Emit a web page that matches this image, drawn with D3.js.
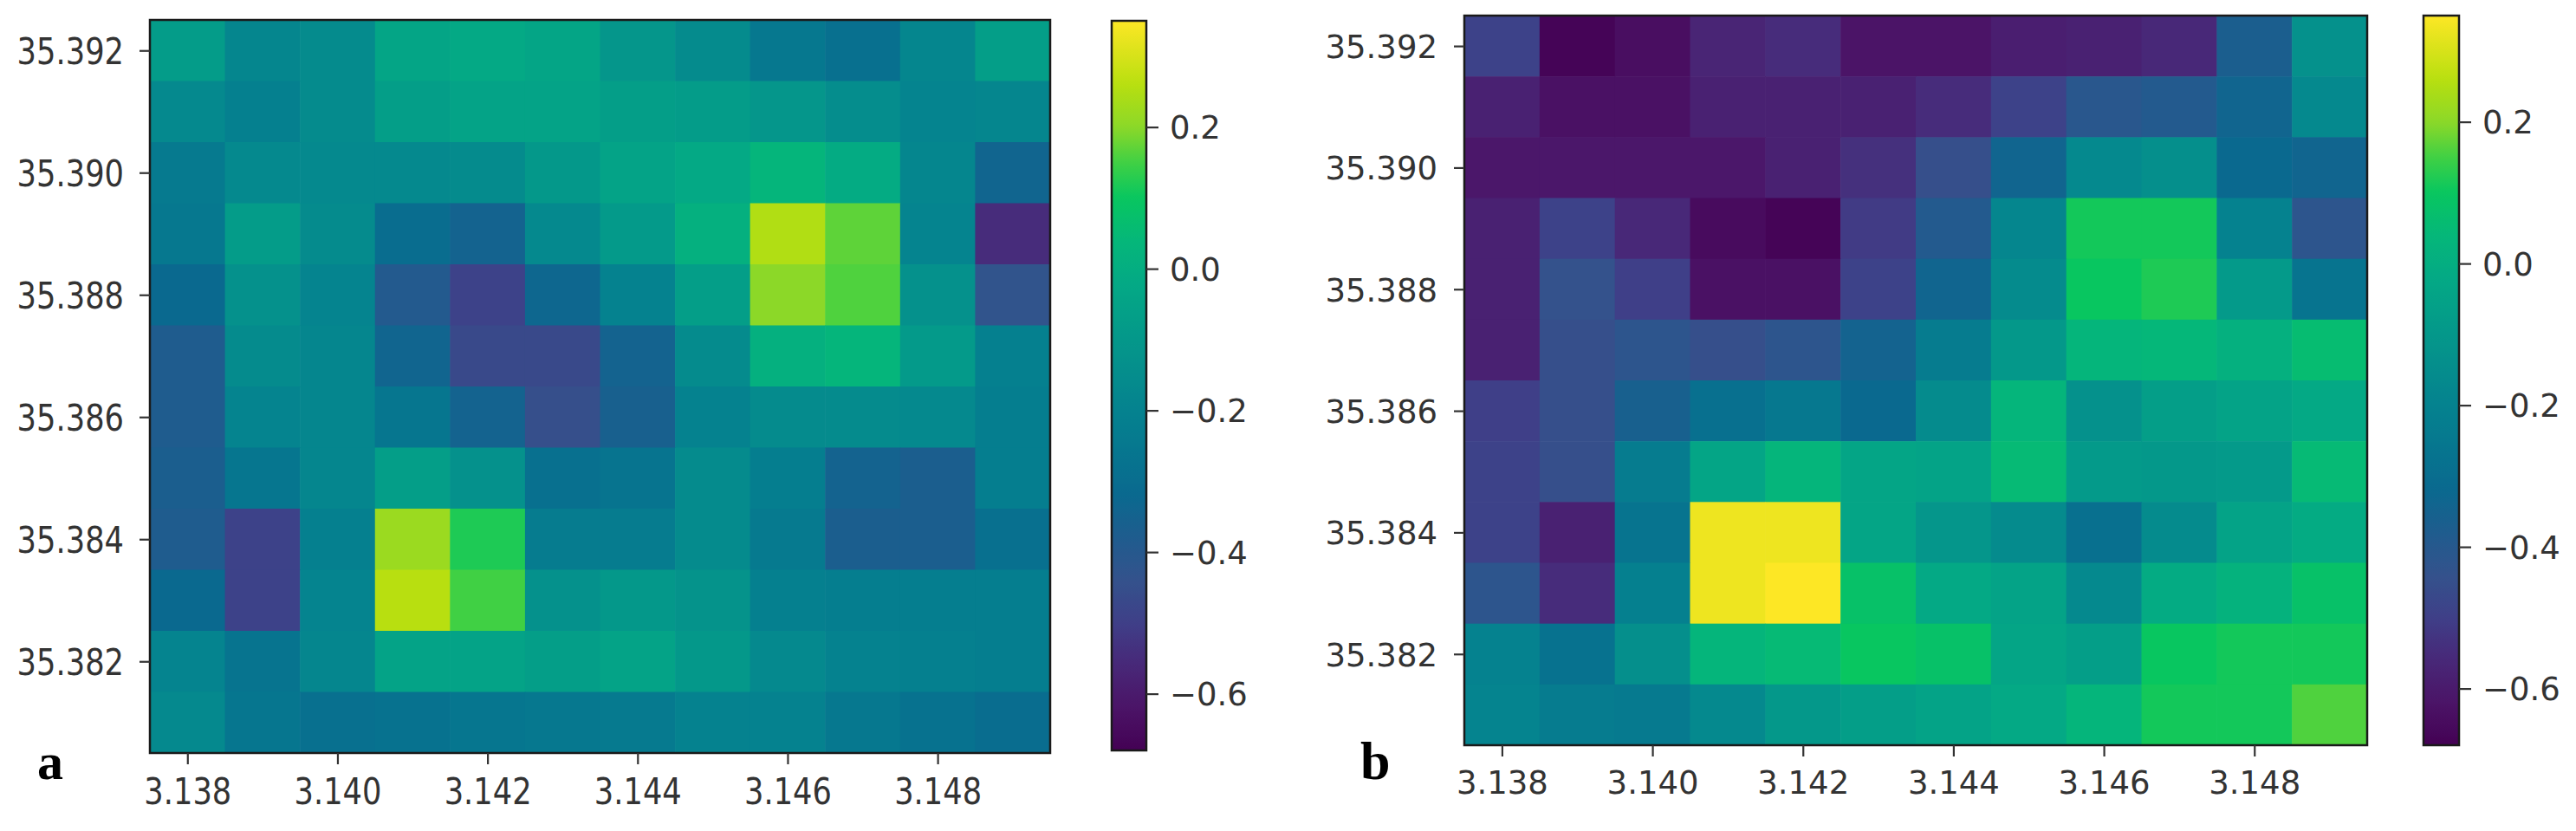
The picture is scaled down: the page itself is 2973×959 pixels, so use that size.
<!DOCTYPE html>
<html>
<head>
<meta charset="utf-8">
<script src="https://cdn.jsdelivr.net/npm/d3@7"></script>
<style>
  html, body { margin: 0; padding: 0; background: #ffffff; }
  svg { display: block; }
</style>
</head>
<body>
<svg id="chart" width="2973" height="959"></svg>
<script>
// ---------------- DATA ----------------
const xCenters = [3.138, 3.139, 3.140, 3.141, 3.142, 3.143, 3.144, 3.145, 3.146, 3.147, 3.148, 3.149];
const yCenters = [35.392, 35.391, 35.390, 35.389, 35.388, 35.387, 35.386, 35.385, 35.384, 35.383, 35.382, 35.381];
const xTickValues = [3.138, 3.140, 3.142, 3.144, 3.146, 3.148];
const yTickValues = [35.382, 35.384, 35.386, 35.388, 35.390, 35.392];
const colorbarTicks = [-0.6, -0.4, -0.2, 0.0, 0.2];
const valueMin = -0.68;
const valueMax = 0.35;

// rows from top (35.392) to bottom (35.381), columns left to right
const valuesA = [
  [-0.08, -0.18, -0.16, -0.04, -0.02, -0.04, -0.11, -0.16, -0.25, -0.29, -0.18, -0.07],
  [-0.17, -0.21, -0.16, -0.07, -0.05, -0.05, -0.07, -0.08, -0.11, -0.15, -0.19, -0.18],
  [-0.24, -0.17, -0.17, -0.17, -0.16, -0.10, -0.05, -0.02,  0.03, -0.01, -0.18, -0.34],
  [-0.25, -0.08, -0.16, -0.30, -0.35, -0.17, -0.09,  0.01,  0.25,  0.17, -0.19, -0.55],
  [-0.32, -0.13, -0.19, -0.39, -0.49, -0.33, -0.20, -0.07,  0.20,  0.16, -0.13, -0.43],
  [-0.38, -0.16, -0.18, -0.34, -0.47, -0.47, -0.35, -0.16,  0.01,  0.03, -0.09, -0.21],
  [-0.38, -0.19, -0.18, -0.26, -0.35, -0.45, -0.36, -0.20, -0.16, -0.16, -0.17, -0.22],
  [-0.37, -0.26, -0.18, -0.07, -0.13, -0.29, -0.27, -0.16, -0.22, -0.35, -0.37, -0.22],
  [-0.38, -0.49, -0.21,  0.22,  0.12, -0.23, -0.23, -0.16, -0.24, -0.37, -0.37, -0.29],
  [-0.32, -0.49, -0.19,  0.26,  0.15, -0.13, -0.10, -0.12, -0.21, -0.22, -0.22, -0.22],
  [-0.19, -0.27, -0.18, -0.05, -0.05, -0.07, -0.05, -0.10, -0.17, -0.20, -0.21, -0.22],
  [-0.17, -0.26, -0.29, -0.28, -0.26, -0.25, -0.24, -0.20, -0.20, -0.25, -0.28, -0.30]
];

const valuesB = [
  [-0.49, -0.67, -0.64, -0.57, -0.55, -0.62, -0.62, -0.59, -0.58, -0.56, -0.37, -0.13],
  [-0.58, -0.63, -0.63, -0.58, -0.58, -0.58, -0.55, -0.49, -0.41, -0.39, -0.34, -0.17],
  [-0.61, -0.61, -0.61, -0.61, -0.58, -0.54, -0.45, -0.34, -0.17, -0.14, -0.32, -0.34],
  [-0.58, -0.49, -0.56, -0.65, -0.67, -0.51, -0.39, -0.18,  0.11,  0.11, -0.20, -0.42],
  [-0.58, -0.44, -0.50, -0.63, -0.63, -0.49, -0.34, -0.16,  0.10,  0.12, -0.09, -0.27],
  [-0.58, -0.45, -0.42, -0.45, -0.42, -0.35, -0.23, -0.10,  0.03,  0.04,  0.01,  0.06],
  [-0.50, -0.45, -0.36, -0.29, -0.25, -0.32, -0.16,  0.03, -0.13, -0.07, -0.05, -0.02],
  [-0.49, -0.45, -0.23, -0.04,  0.03, -0.04, -0.05,  0.05, -0.09, -0.10, -0.09,  0.05],
  [-0.49, -0.58, -0.27,  0.33,  0.33, -0.04, -0.11, -0.16, -0.29, -0.16, -0.05, -0.01],
  [-0.42, -0.55, -0.21,  0.33,  0.35,  0.08, -0.02, -0.05, -0.17, -0.01,  0.02,  0.08],
  [-0.20, -0.28, -0.14,  0.03,  0.05,  0.10,  0.08, -0.04, -0.07,  0.10,  0.11,  0.11],
  [-0.19, -0.23, -0.24, -0.17, -0.10, -0.07, -0.05, -0.02,  0.03,  0.11,  0.11,  0.16]
];

// colormap stops (viridis-like, as rendered in the reference)
const cmapValues = [-0.68, -0.62, -0.56, -0.50, -0.44, -0.38, -0.32, -0.26, -0.20, -0.14, -0.08, -0.02, 0.04, 0.10, 0.15, 0.20, 0.26, 0.35];
const cmapColors = ["#440154", "#4b1467", "#482878", "#3f3f88", "#34528c", "#1f5c8e", "#0a698f", "#06768f",
                    "#05828f", "#058f8c", "#049c89", "#04a985", "#05b779", "#08c660", "#40d044", "#8cd828", "#b8df10", "#fde725"];

// ---------------- LAYOUT ----------------
const panels = [
  { id: "a", values: valuesA,
    plot: { left: 173, right: 1212, top: 23, bottom: 869 },
    cbar: { left: 1283, right: 1323, top: 24, bottom: 866 },
    axisFont: 42, axisScaleX: 0.84, yLabelGap: 30, xLabelBase: 59,
    letter: { x: 43, y: 899, size: 60 } },
  { id: "b", values: valuesB,
    plot: { left: 1690, right: 2732, top: 18, bottom: 860 },
    cbar: { left: 2797, right: 2838, top: 18, bottom: 860 },
    axisFont: 37, axisScaleX: 1.0, yLabelGap: 31, xLabelBase: 56,
    letter: { x: 1570, y: 899, size: 62 } }
];

const svg = d3.select("#chart");
const color = d3.scaleLinear().domain(cmapValues).range(cmapColors).interpolate(d3.interpolateRgb).clamp(true);
const halfX = 0.0005, halfY = 0.0005;

panels.forEach((p, pi) => {
  const x = d3.scaleLinear().domain([3.1375, 3.1495]).range([p.plot.left, p.plot.right]);
  const y = d3.scaleLinear().domain([35.3805, 35.3925]).range([p.plot.bottom, p.plot.top]);

  const cells = [];
  p.values.forEach((row, ri) => row.forEach((v, ci) => cells.push({ x: xCenters[ci], y: yCenters[ri], v })));

  const g = svg.append("g");
  g.selectAll("rect.cell").data(cells).join("rect")
    .attr("class", "cell")
    .attr("x", d => x(d.x - halfX))
    .attr("y", d => y(d.y + halfY))
    .attr("width", d => x(d.x + halfX) - x(d.x - halfX) + 0.6)
    .attr("height", d => y(d.y - halfY) - y(d.y + halfY) + 0.6)
    .attr("fill", d => color(d.v));

  // frame
  g.append("rect")
    .attr("x", p.plot.left).attr("y", p.plot.top)
    .attr("width", p.plot.right - p.plot.left).attr("height", p.plot.bottom - p.plot.top)
    .attr("fill", "none").attr("stroke", "#1a1a1a").attr("stroke-width", 2.5);

  // x axis
  const xAxis = g.append("g")
    .attr("transform", `translate(0,${p.plot.bottom})`)
    .call(d3.axisBottom(x).tickValues(xTickValues).tickFormat(d3.format(".3f")).tickSize(13).tickSizeOuter(0));
  xAxis.select(".domain").remove();
  xAxis.selectAll(".tick line").attr("stroke", "#333").attr("stroke-width", 2.2);
  xAxis.selectAll(".tick text")
    .attr("y", p.xLabelBase).attr("dy", "0")
    .attr("transform", `scale(${p.axisScaleX},1)`)
    .attr("font-family", "DejaVu Sans").attr("font-size", p.axisFont).attr("fill", "#333");

  // y axis
  const yAxis = g.append("g")
    .attr("transform", `translate(${p.plot.left},0)`)
    .call(d3.axisLeft(y).tickValues(yTickValues).tickFormat(d3.format(".3f")).tickSize(12).tickSizeOuter(0));
  yAxis.select(".domain").remove();
  yAxis.selectAll(".tick line").attr("stroke", "#333").attr("stroke-width", 2.2);
  yAxis.selectAll(".tick text")
    .attr("x", -p.yLabelGap / p.axisScaleX).attr("dy", "0.36em")
    .attr("transform", `scale(${p.axisScaleX},1)`)
    .attr("font-family", "DejaVu Sans").attr("font-size", p.axisFont).attr("fill", "#333");

  // colorbar
  const c = d3.scaleLinear().domain([valueMin, valueMax]).range([p.cbar.bottom, p.cbar.top]);
  const gradId = "grad" + pi;
  const grad = svg.append("defs").append("linearGradient")
    .attr("id", gradId).attr("x1", 0).attr("y1", 1).attr("x2", 0).attr("y2", 0);
  d3.range(0, 101).forEach(i => {
    const v = valueMin + (valueMax - valueMin) * i / 100;
    grad.append("stop").attr("offset", (i) + "%").attr("stop-color", color(v));
  });
  g.append("rect")
    .attr("x", p.cbar.left).attr("y", p.cbar.top)
    .attr("width", p.cbar.right - p.cbar.left).attr("height", p.cbar.bottom - p.cbar.top)
    .attr("fill", `url(#${gradId})`).attr("stroke", "#1a1a1a").attr("stroke-width", 2.5);

  const cAxis = g.append("g")
    .attr("transform", `translate(${p.cbar.right},0)`)
    .call(d3.axisRight(c).tickValues(colorbarTicks).tickFormat(d3.format(".1f")).tickSize(14).tickSizeOuter(0));
  cAxis.select(".domain").remove();
  cAxis.selectAll(".tick line").attr("stroke", "#333").attr("stroke-width", 2.2);
  cAxis.selectAll(".tick text")
    .attr("x", 27).attr("dy", "0.36em")
    .attr("font-family", "DejaVu Sans").attr("font-size", 37).attr("fill", "#333");

  // panel letter
  svg.append("text")
    .attr("x", p.letter.x).attr("y", p.letter.y)
    .attr("font-family", "Liberation Serif").attr("font-weight", "bold")
    .attr("font-size", p.letter.size).attr("fill", "#000")
    .text(p.id);
});
</script>
</body>
</html>
